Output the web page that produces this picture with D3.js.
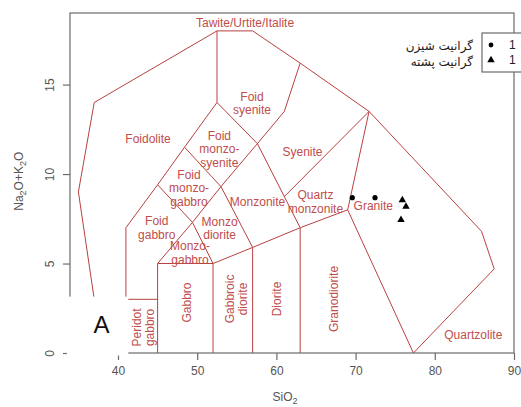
<!DOCTYPE html>
<html>
<head>
<meta charset="utf-8">
<script src="https://d3js.org/d3.v7.min.js"></script>
<style>body{margin:0;background:#fff}</style>
</head>
<body>
<svg id="chart" width="521" height="407"></svg>
<script>
// axis ticks
const xTicks = [40, 50, 60, 70, 80, 90];
const yTicks = [0, 5, 10, 15];

// field boundaries, [SiO2, Na2O+K2O]
const outerLine = [[37,3],[35,9],[37,14],[52.5,18],[57,18],[63,16.2],[71.7,13.5],[85.9,6.8],[87.5,4.7],[77.3,0]];
const foidLine = [[41,3],[41,7],[45,9.4],[48.4,11.5],[52.5,14],[52.5,18]];
const peridotLine = [[41,3],[45,3]];
const gabbroLine = [[45,0],[45,5],[52,5],[52,0]];
const dioriteLine = [[57,0],[57,5.9]];
const granodioriteLine = [[63,0],[63,7]];
const lowerLine = [[52,5],[57,5.9],[63,7],[69,8],[77.3,0]];
const monzoLine = [[45,5],[49.4,7.3],[53,9.3],[57.6,11.7],[61,13.5],[63,16.2]];
const foidGabbroLine = [[45,9.4],[49.4,7.3],[52,5]];
const foidMonzoLine = [[48.4,11.5],[53,9.3],[57,5.9]];
const syeniteLine = [[52.5,14],[57.6,11.7],[63,7]];
const quartzLine = [[61,8.74],[71.7,13.5],[69,8]];

// field names: text lines, x, y, rotated?
const fieldNames = [
  [["Tawite/Urtite/Italite"], 56.04, 18.45, false],
  [["Foid","syenite"], 56.92, 13.95, false],
  [["Foidolite"], 43.79, 11.96, false],
  [["Foid","monzo-","syenite"], 52.8, 11.4, false],
  [["Syenite"], 63.3, 11.22, false],
  [["Foid","monzo-","gabbro"], 48.97, 9.22, false],
  [["Monzonite"], 57.62, 8.46, false],
  [["Quartz","monzonite"], 64.93, 8.44, false],
  [["Granite"], 72.23, 8.23, false],
  [["Foid","gabbro"], 44.89, 6.99, false],
  [["Monzo","diorite"], 52.83, 6.97, false],
  [["Monzo-","gabbro"], 49.09, 5.61, false],
  [["Peridot","gabbro"], 43.2, 1.43, true],
  [["Gabbro"], 48.68, 2.82, true],
  [["Gabbroic","diorite"], 54.94, 3.02, true],
  [["Diorite"], 60.04, 3.02, true],
  [["Granodiorite"], 67.19, 3.02, true],
  [["Quartzolite"], 84.86, 1.01, false]
];

// samples
const shiznGranite = [[69.58,8.68],[72.45,8.68]];
const poshtehGranite = [[75.9,8.55],[76.36,8.18],[75.73,7.44]];
const legendNames = ["گرانیت شیزن", "گرانیت پشته"];
const legendCounts = ["1", "1"];

const svg = d3.select("#chart");
const x = d3.scaleLinear().domain([33.94, 90]).range([70, 514]);
const y = d3.scaleLinear().domain([0, 19]).range([353, 13]);
const lineCol = "#b8413f", textCol = "#bf4d4b", axisCol = "#6b6b6b";
const font = "'Liberation Sans', Arial, sans-serif";

const line = d3.line().x(d => x(d[0])).y(d => y(d[1]));
const allLines = [outerLine, foidLine, peridotLine, gabbroLine, dioriteLine, granodioriteLine,
  lowerLine, monzoLine, foidGabbroLine, foidMonzoLine, syeniteLine, quartzLine];

svg.append("g").selectAll("path").data(allLines).enter().append("path")
  .attr("d", line).attr("fill", "none").attr("stroke", lineCol).attr("stroke-width", 1);

// labels
const lh = 13.4;
const lab = svg.append("g").attr("fill", textCol).attr("font-family", font).attr("font-size", 12)
  .attr("text-anchor", "middle");
fieldNames.forEach(f => {
  const t = lab.append("text")
    .attr("transform", "translate(" + x(f[1]) + "," + y(f[2]) + ")" + (f[3] ? " rotate(-90)" : ""));
  const n = f[0].length;
  f[0].forEach((s, i) => {
    t.append("tspan").attr("x", 0).attr("y", (i - (n - 1) / 2) * lh).attr("dy", "0.35em").text(s);
  });
});

// frame
svg.append("rect").attr("x", x(33.94)).attr("y", y(19)).attr("width", x(90) - x(33.94))
  .attr("height", y(0) - y(19)).attr("fill", "none").attr("stroke", axisCol).attr("stroke-width", 1.2);

// axes
const xAx = svg.append("g").attr("transform", "translate(0," + y(0) + ")")
  .call(d3.axisBottom(x).tickValues(xTicks).tickSize(7).tickPadding(6));
const yAx = svg.append("g").attr("transform", "translate(" + x(33.94) + ",0)")
  .call(d3.axisLeft(y).tickValues(yTicks).tickSize(7));
[xAx, yAx].forEach(a => {
  a.select(".domain").remove();
  a.selectAll("line").attr("stroke", axisCol).attr("stroke-width", 1.2);
  a.selectAll("text").attr("fill", "#555").attr("font-family", font).attr("font-size", 12);
});
yAx.selectAll("text").attr("text-anchor", "middle").attr("x", null).attr("dy", "0.35em")
  .attr("transform", "translate(-20,0) rotate(-90)");

// white patch behind the panel letter
svg.append("rect").attr("x", x(33.55)).attr("y", y(3.15)).attr("width", x(41.3) - x(33.55))
  .attr("height", y(-0.14) - y(3.15)).attr("fill", "#fff");
svg.append("text").attr("x", x(37.92)).attr("y", y(1.6)).attr("dy", "0.35em").attr("text-anchor", "middle")
  .attr("font-family", font).attr("font-size", 24).attr("fill", "#111").text("A");

// axis titles
svg.append("text").attr("x", x(61.1)).attr("y", 401).attr("text-anchor", "middle")
  .attr("font-family", font).attr("font-size", 12).attr("fill", "#555")
  .call(t => { t.append("tspan").text("SiO"); t.append("tspan").attr("dy", 3).attr("font-size", 9).text("2"); });
svg.append("text").attr("transform", "translate(23," + y(9.6) + ") rotate(-90)").attr("text-anchor", "middle")
  .attr("font-family", font).attr("font-size", 12).attr("fill", "#555")
  .call(t => {
    t.append("tspan").text("Na");
    t.append("tspan").attr("dy", 3).attr("font-size", 9).text("2");
    t.append("tspan").attr("dy", -3).text("O+K");
    t.append("tspan").attr("dy", 3).attr("font-size", 9).text("2");
    t.append("tspan").attr("dy", -3).text("O");
  });

// samples
svg.append("g").selectAll("circle").data(shiznGranite).enter().append("circle")
  .attr("cx", d => x(d[0])).attr("cy", d => y(d[1])).attr("r", 2.6).attr("fill", "#000");
const tri = d3.symbol().type(d3.symbolTriangle).size(24);
svg.append("g").selectAll("path").data(poshtehGranite).enter().append("path")
  .attr("transform", d => "translate(" + x(d[0]) + "," + y(d[1]) + ")").attr("d", tri).attr("fill", "#000");

// legend
const lg = svg.append("g");
lg.append("rect").attr("x", 482).attr("y", 33).attr("width", 60).attr("height", 39)
  .attr("fill", "#fff").attr("stroke", axisCol).attr("stroke-width", 1.2);
lg.append("circle").attr("cx", 491).attr("cy", 45).attr("r", 2.4).attr("fill", "#000");
lg.append("path").attr("transform", "translate(491,60)").attr("d", tri).attr("fill", "#000");
lg.selectAll(".cnt").data(legendCounts).enter().append("text").attr("class", "cnt")
  .attr("x", 509).attr("y", (d, i) => 45 + i * 15).attr("dy", "0.35em")
  .attr("font-family", font).attr("font-size", 12).attr("fill", "#222").text(d => d);
lg.selectAll(".nm").data(legendNames).enter().append("text").attr("class", "nm")
  .attr("x", 473).attr("y", (d, i) => 46 + i * 16).attr("dy", "0.35em").attr("text-anchor", "end")
  .attr("font-family", "'DejaVu Sans', sans-serif").attr("font-size", 12).attr("fill", "#222").text(d => d);
</script>
</body>
</html>
